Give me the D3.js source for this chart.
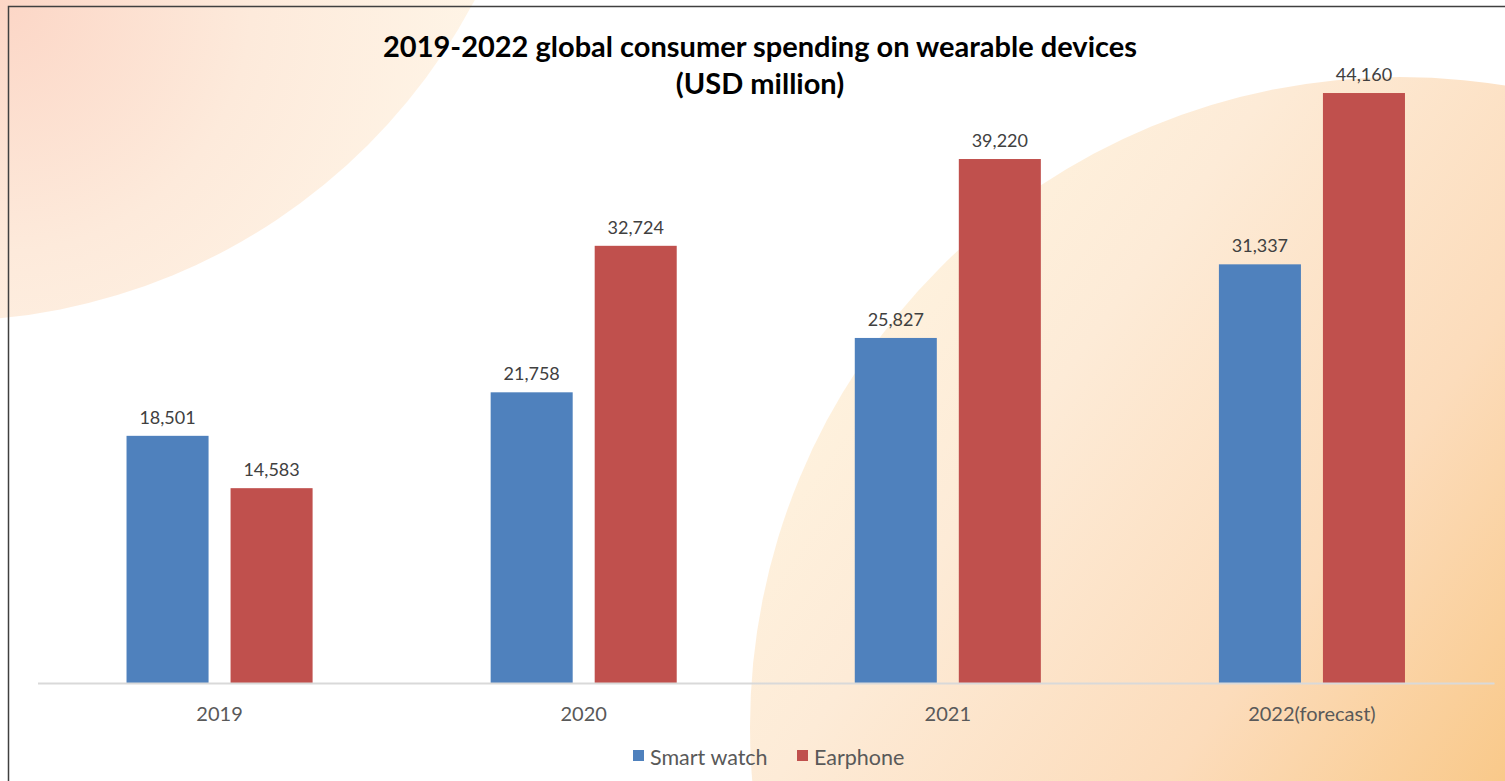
<!DOCTYPE html>
<html>
<head>
<meta charset="utf-8">
<script src="https://cdn.jsdelivr.net/npm/d3@7/dist/d3.min.js"></script>
<style>
  html, body { margin: 0; padding: 0; background: #fff; }
  svg { display: block; }
  text { font-family: Lato, "Open Sans", sans-serif; }
</style>
</head>
<body>
<svg id="chart" width="1505" height="781"></svg>
<script>
const categories = ["2019", "2020", "2021", "2022(forecast)"];
const seriesNames = ["Smart watch", "Earphone"];
const smartWatch = [18501, 21758, 25827, 31337];
const earphone = [14583, 32724, 39220, 44160];
const colors = ["#4f81bd", "#c0504d"];
const titleLines = ["2019-2022 global consumer spending on wearable devices", "(USD million)"];

const W = 1505, H = 781;
const svg = d3.select("#chart");
const defs = svg.append("defs");

// Background decorations
const g1 = defs.append("radialGradient").attr("id", "tl").attr("gradientUnits", "userSpaceOnUse")
  .attr("cx", 0).attr("cy", 0).attr("r", 560);
g1.append("stop").attr("offset", "0%").attr("stop-color", "#fcd6c6");
g1.append("stop").attr("offset", "45%").attr("stop-color", "#fdeadb");
g1.append("stop").attr("offset", "100%").attr("stop-color", "#fff8ea");

const g2 = defs.append("linearGradient").attr("id", "br").attr("gradientUnits", "userSpaceOnUse")
  .attr("x1", 760).attr("y1", 250).attr("x2", 1505).attr("y2", 781);
g2.append("stop").attr("offset", "0%").attr("stop-color", "#fff6e2");
g2.append("stop").attr("offset", "35%").attr("stop-color", "#fdebd7");
g2.append("stop").attr("offset", "70%").attr("stop-color", "#fcdcbb");
g2.append("stop").attr("offset", "100%").attr("stop-color", "#f9c98a");

svg.append("rect").attr("width", W).attr("height", H).attr("fill", "#ffffff");
svg.append("ellipse").attr("cx", -57).attr("cy", -280).attr("rx", 601).attr("ry", 601).attr("fill", "url(#tl)");
svg.append("circle").attr("cx", 1400).attr("cy", 727).attr("r", 650).attr("fill", "url(#br)");

// frame border (top & left)
svg.append("path").attr("d", `M8.5,${H} L8.5,6.5 L${W},6.5`).attr("fill", "none")
  .attr("stroke", "#404040").attr("stroke-width", 1.5);

// Scales
const x0 = d3.scaleBand().domain(categories).range([37.5, 1494]).paddingInner(0.489).paddingOuter(0.2445);
const x1 = d3.scaleBand().domain(seriesNames).range([0, x0.bandwidth()]).paddingInner(0.2115).paddingOuter(0);
const y = d3.scaleLinear().domain([0, 50000]).range([683, 15]);

const data = categories.map((c, i) => ({ cat: c, vals: [smartWatch[i], earphone[i]] }));

const groups = svg.append("g").selectAll("g").data(data).join("g")
  .attr("transform", d => `translate(${x0(d.cat)},0)`);

groups.selectAll("rect").data(d => d.vals.map((v, j) => ({ name: seriesNames[j], v, j })))
  .join("rect")
  .attr("x", d => x1(d.name))
  .attr("y", d => y(d.v))
  .attr("width", x1.bandwidth())
  .attr("height", d => y(0) - y(d.v))
  .attr("fill", d => colors[d.j]);

groups.selectAll("text").data(d => d.vals.map((v, j) => ({ name: seriesNames[j], v, j })))
  .join("text")
  .attr("x", d => x1(d.name) + x1.bandwidth() / 2)
  .attr("y", d => y(d.v) - 12)
  .attr("text-anchor", "middle")
  .attr("font-size", 18)
  .attr("fill", "#404040")
  .text(d => d3.format(",")(d.v));

// X axis
const xAxis = svg.append("g").attr("transform", `translate(0,${y(0)})`)
  .call(d3.axisBottom(x0).tickSize(0).tickPadding(24));
xAxis.select(".domain").attr("stroke", "#d9d9d9").attr("stroke-width", 2.2);
xAxis.selectAll("text").attr("font-size", 20).attr("fill", "#595959")
  .attr("font-family", "Lato, 'Open Sans', sans-serif");

// Title
svg.append("text").attr("x", 760).attr("y", 57).attr("text-anchor", "middle")
  .attr("font-size", 29).attr("font-weight", "bold").attr("fill", "#000")
  .text(titleLines[0]);
svg.append("text").attr("x", 760).attr("y", 94).attr("text-anchor", "middle")
  .attr("font-size", 29).attr("font-weight", "bold").attr("fill", "#000")
  .text(titleLines[1]);

// Legend
const legendX = [633, 797];
const leg = svg.append("g").selectAll("g").data(seriesNames).join("g")
  .attr("transform", (d, i) => `translate(${legendX[i]},750)`);
leg.append("rect").attr("width", 11).attr("height", 11).attr("fill", (d, i) => colors[i]);
leg.append("text").attr("x", 17).attr("y", 15).attr("font-size", 21.5).attr("fill", "#595959").text(d => d);
</script>
</body>
</html>
